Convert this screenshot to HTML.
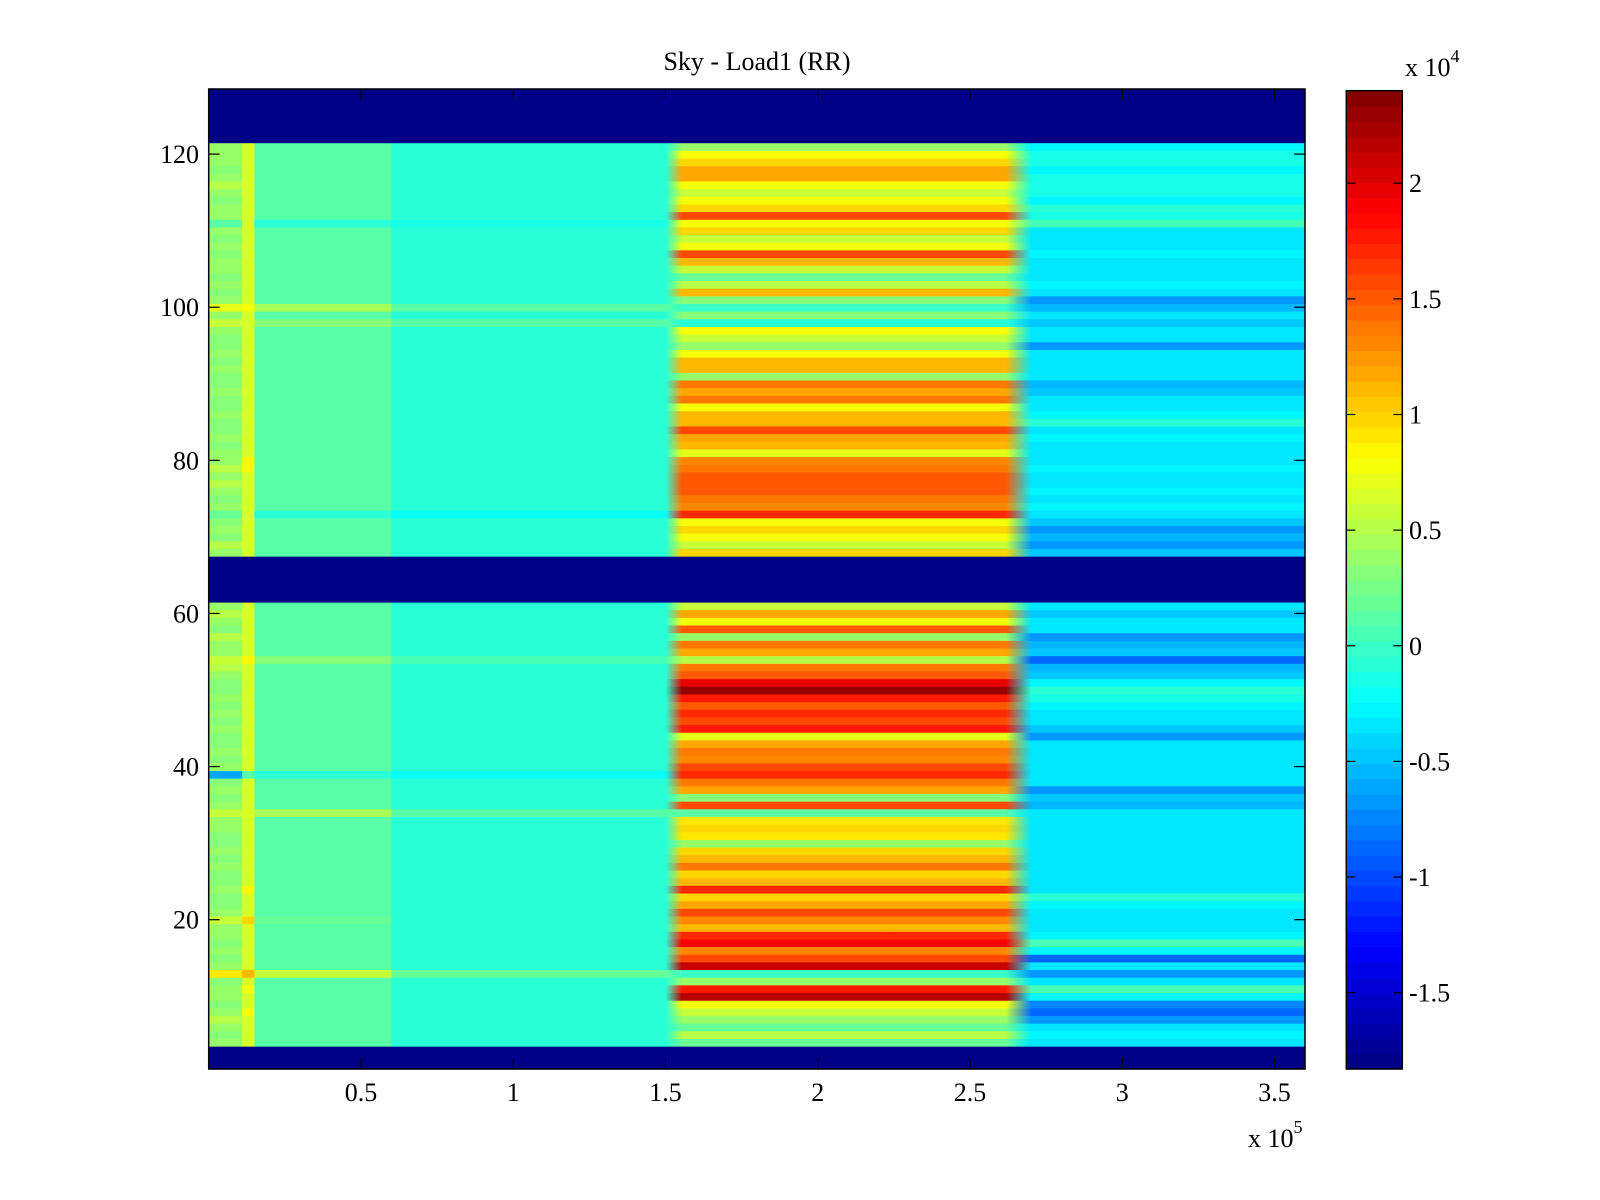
<!DOCTYPE html>
<html>
<head>
<meta charset="utf-8">
<style>
  html,body{margin:0;padding:0;background:#fff;}
  svg{display:block;}
  text{font-family:"Liberation Serif","DejaVu Serif",serif;fill:#000;}
</style>
</head>
<body>
<svg id="chart" width="1600" height="1200" viewBox="0 0 1600 1200" xmlns="http://www.w3.org/2000/svg">
  <rect x="0" y="0" width="1600" height="1200" fill="#fff"/>
  <text x="757" y="70" font-size="26" text-anchor="middle">Sky - Load1 (RR)</text>
  <g id="cells"></g>
  <defs id="defs"></defs>
  <g id="axes"></g>
  <g id="cbar"></g>
  <text x="1248" y="1147" font-size="26">x 10<tspan dy="-14" font-size="18">5</tspan></text>
  <text x="1405" y="76" font-size="26">x 10<tspan dy="-14" font-size="18">4</tspan></text>
</svg>
<script>
// ---- data (values in units of 1e4; rows 1..128) ----
const B = -1.83;
const xSegments = [0, 0.11, 0.15, 0.6, 1.50, 2.70, 3.6]; // segment edges in 1e5 units
const xTicks = [0.5, 1, 1.5, 2, 2.5, 3, 3.5];
const xTickLabels = ["0.5", "1", "1.5", "2", "2.5", "3", "3.5"];
const yTicks = [20, 40, 60, 80, 100, 120];
const yTickLabels = ["20", "40", "60", "80", "100", "120"];
const cTicks = [-1.5, -1, -0.5, 0, 0.5, 1, 1.5, 2];
const cTickLabels = ["-1.5", "-1", "-0.5", "0", "0.5", "1", "1.5", "2"];
const cLimits = [-1.83, 2.40];
const xLimits = [0, 3.6];
const yLimits = [0.5, 128.5];

const leftVals = [
  B,B,B,0.4,0.3,0.4,0.5,0.4,0.3,0.4,
  0.4,0.3,0.9,0.4,0.3,0.4,0.3,0.4,0.4,0.6,
  0.4,0.3,0.3,0.4,0.3,0.3,0.4,0.3,0.4,0.3,
  0.3,0.4,0.4,0.6,0.4,0.3,0.4,0.3,-0.6,0.4,
  0.3,0.4,0.3,0.3,0.4,0.3,0.4,0.3,0.4,0.3,
  0.3,0.4,0.5,0.6,0.4,0.4,0.5,0.3,0.4,0.5,
  0.4,B,B,B,B,B,B,0.4,0.5,0.3,
  0.4,0.3,0.2,0.4,0.3,0.4,0.5,0.4,0.5,0.4,
  0.4,0.3,0.4,0.3,0.3,0.4,0.3,0.3,0.4,0.3,
  0.3,0.4,0.3,0.4,0.3,0.3,0.4,0.6,0.4,0.7,
  0.4,0.3,0.4,0.3,0.4,0.4,0.3,0.4,0.3,0.4,
  0.1,0.4,0.4,0.3,0.4,0.5,0.4,0.3,0.4,0.4,
  0.4,B,B,B,B,B,B,B
];
const stripeVals = [
  B,B,B,0.65,0.65,0.65,0.65,0.75,0.65,0.65,
  0.75,0.65,1.1,0.65,0.65,0.65,0.65,0.65,0.65,0.95,
  0.65,0.65,0.65,0.85,0.65,0.65,0.65,0.65,0.65,0.65,
  0.65,0.65,0.65,0.65,0.65,0.65,0.65,0.65,0.1,0.65,
  0.65,0.65,0.65,0.65,0.65,0.65,0.65,0.65,0.65,0.65,
  0.65,0.65,0.65,0.85,0.65,0.65,0.65,0.65,0.65,0.65,
  0.65,B,B,B,B,B,B,0.65,0.65,0.65,
  0.65,0.65,0.65,0.65,0.65,0.65,0.65,0.65,0.8,0.85,
  0.65,0.65,0.65,0.65,0.65,0.65,0.65,0.65,0.65,0.65,
  0.65,0.65,0.65,0.65,0.65,0.65,0.65,0.65,0.65,0.8,
  0.65,0.65,0.65,0.65,0.65,0.65,0.65,0.65,0.65,0.65,
  0.65,0.65,0.65,0.65,0.65,0.65,0.65,0.65,0.65,0.65,
  0.65,B,B,B,B,B,B,B
];
const cyanNearVals = [
  B,B,B,0.15,0.15,0.15,0.15,0.15,0.15,0.15,
  0.15,0.15,0.55,0.15,0.15,0.15,0.15,0.15,0.15,0.2,
  0.15,0.15,0.15,0.15,0.15,0.15,0.15,0.15,0.15,0.15,
  0.15,0.15,0.15,0.45,0.15,0.15,0.15,0.15,-0.1,0.15,
  0.15,0.15,0.15,0.15,0.15,0.15,0.15,0.15,0.15,0.15,
  0.15,0.15,0.15,0.3,0.15,0.15,0.15,0.15,0.15,0.15,
  0.15,B,B,B,B,B,B,0.15,0.15,0.15,
  0.15,0.15,-0.1,0.15,0.15,0.15,0.15,0.15,0.15,0.15,
  0.15,0.15,0.15,0.15,0.15,0.15,0.15,0.15,0.15,0.15,
  0.15,0.15,0.15,0.15,0.15,0.15,0.15,0.35,0.15,0.45,
  0.15,0.15,0.15,0.15,0.15,0.15,0.15,0.15,0.15,0.15,
  -0.05,0.15,0.15,0.15,0.15,0.15,0.15,0.15,0.15,0.15,
  0.15,B,B,B,B,B,B,B
];
const cyanFarVals = [
  B,B,B,-0.05,-0.05,-0.05,-0.05,-0.05,-0.05,-0.05,
  -0.05,-0.05,0.2,-0.05,-0.05,-0.05,-0.05,-0.05,-0.05,-0.05,
  -0.05,-0.05,-0.05,-0.05,-0.05,-0.05,-0.05,-0.05,-0.05,-0.05,
  -0.05,-0.05,-0.05,0.15,-0.05,-0.05,-0.05,-0.05,-0.2,-0.05,
  -0.05,-0.05,-0.05,-0.05,-0.05,-0.05,-0.05,-0.05,-0.05,-0.05,
  -0.05,-0.05,-0.05,0.05,-0.05,-0.05,-0.05,-0.05,-0.05,-0.05,
  -0.05,B,B,B,B,B,B,-0.05,-0.05,-0.05,
  -0.05,-0.05,-0.2,-0.05,-0.05,-0.05,-0.05,-0.05,-0.05,-0.05,
  -0.05,-0.05,-0.05,-0.05,-0.05,-0.05,-0.05,-0.05,-0.05,-0.05,
  -0.05,-0.05,-0.05,-0.05,-0.05,-0.05,-0.05,0.1,-0.05,0.15,
  -0.05,-0.05,-0.05,-0.05,-0.05,-0.05,-0.05,-0.05,-0.05,-0.05,
  -0.15,-0.05,-0.05,-0.05,-0.05,-0.05,-0.05,-0.05,-0.05,-0.05,
  -0.05,B,B,B,B,B,B,B
];
const hotVals = [
  B,B,B,0.2,0.5,0.2,0.4,0.6,0.8,2.2,
  1.8,0.4,0.0,2.1,1.6,1.3,1.9,1.7,1.1,1.3,
  1.6,1.2,1.0,1.7,1.1,1.0,1.4,1.1,1.0,0.4,
  0.9,1.0,0.9,0.1,1.6,0.3,1.2,1.4,1.7,1.6,
  1.3,1.4,1.2,0.7,1.8,1.6,1.7,1.5,1.8,2.3,
  2.0,1.5,1.4,0.5,1.2,1.4,0.4,1.5,0.8,1.2,
  0.6,B,B,B,B,B,B,1.0,0.6,0.8,
  1.0,0.8,1.7,1.3,1.4,1.5,1.5,1.5,1.4,1.3,
  0.7,1.1,1.2,1.6,1.1,1.1,0.8,1.4,1.2,1.4,
  0.4,1.1,1.1,0.8,0.4,0.6,0.8,-0.1,0.3,0.0,
  0.3,1.1,0.5,0.2,0.6,1.1,1.6,0.8,0.6,1.0,
  0.8,1.6,1.0,0.8,0.6,0.8,1.2,1.2,1.0,0.8,
  0.4,B,B,B,B,B,B,B
];
const rightVals = [
  B,B,B,-0.35,-0.25,-0.35,-0.65,-0.85,-0.75,-0.25,
  0.05,-0.35,-0.65,-0.35,-0.85,-0.25,0.05,-0.25,-0.35,-0.35,
  -0.35,-0.25,-0.05,-0.35,-0.35,-0.35,-0.35,-0.35,-0.35,-0.35,
  -0.35,-0.35,-0.35,-0.35,-0.55,-0.45,-0.65,-0.35,-0.35,-0.35,
  -0.35,-0.35,-0.35,-0.65,-0.45,-0.35,-0.35,-0.25,-0.15,-0.05,
  -0.25,-0.45,-0.55,-0.85,-0.45,-0.55,-0.65,-0.35,-0.35,-0.45,
  -0.35,B,B,B,B,B,B,-0.45,-0.65,-0.55,
  -0.65,-0.45,-0.35,-0.25,-0.35,-0.25,-0.35,-0.35,-0.25,-0.35,
  -0.35,-0.35,-0.25,-0.35,-0.05,-0.25,-0.35,-0.35,-0.45,-0.55,
  -0.35,-0.35,-0.35,-0.35,-0.65,-0.35,-0.35,-0.45,-0.35,-0.55,
  -0.65,-0.35,-0.25,-0.35,-0.35,-0.35,-0.25,-0.35,-0.35,-0.35,
  0.05,-0.15,-0.05,-0.25,-0.15,-0.15,-0.15,-0.25,-0.15,-0.15,
  -0.25,B,B,B,B,B,B,B
];
const segmentSeries = [leftVals, stripeVals, cyanNearVals, cyanFarVals, hotVals, rightVals];
const segmentNames = ["left", "stripe", "cyan-near", "cyan-far", "hot", "right"];

// ---- scales ----
const PX0 = 208.7, PX1 = 1305, PY0 = 89, PY1 = 1069;
function xScale(v){ return PX0 + (v - xLimits[0]) / (xLimits[1] - xLimits[0]) * (PX1 - PX0); }
function yScale(v){ return PY0 + (yLimits[1] - v) / (yLimits[1] - yLimits[0]) * (PY1 - PY0); }
const CB0 = 90.7, CB1 = 1069, CBX = 1346.3, CBW = 56;
function cbScale(v){ return CB0 + (cLimits[1] - v) / (cLimits[1] - cLimits[0]) * (CB1 - CB0); }
function jet(t){
  const c = x => Math.max(0, Math.min(1, x));
  const r = c(1.5 - Math.abs(4*t - 3)), g = c(1.5 - Math.abs(4*t - 2)), b = c(1.5 - Math.abs(4*t - 1));
  return "rgb(" + Math.round(r*255) + "," + Math.round(g*255) + "," + Math.round(b*255) + ")";
}
function colorOf(v){
  let t = (v - cLimits[0]) / (cLimits[1] - cLimits[0]);
  t = Math.max(0, Math.min(1, t));
  let idx = Math.min(63, Math.floor(t * 64));
  return jet((idx + 0.5) / 64);
}

const NS = "http://www.w3.org/2000/svg";
function mk(tag, attrs, parent){
  const e = document.createElementNS(NS, tag);
  for (const k in attrs) e.setAttribute(k, attrs[k]);
  parent.appendChild(e);
  return e;
}

// ---- heatmap cells ----
const cells = document.getElementById("cells");
const defs = document.getElementById("defs");
const nRows = hotVals.length;
for (let i = 0; i < nRows; i++){
  const row = i + 1;
  const yTop = yScale(row + 0.5), yBot = yScale(row - 0.5);
  const h = yBot - yTop + 0.6;
  for (let s = 0; s < segmentSeries.length; s++){
    const x0 = xScale(xSegments[s]), x1 = xScale(xSegments[s+1]);
    const val = segmentSeries[s][i];
    let fill = colorOf(val);
    if (s === 4 && val > B){
      const gid = "g" + row;
      const lg = mk("linearGradient", {id: gid, x1: "0", x2: "1", y1: "0", y2: "0"}, defs);
      const cl = colorOf(cyanFarVals[i]), ch = colorOf(val), cr = colorOf(rightVals[i]);
      mk("stop", {offset: "0", "stop-color": cl}, lg);
      mk("stop", {offset: "0.045", "stop-color": ch}, lg);
      mk("stop", {offset: "0.93", "stop-color": ch}, lg);
      mk("stop", {offset: "1", "stop-color": cr}, lg);
      fill = "url(#" + gid + ")";
    }
    const r = mk("rect", {x: x0.toFixed(2), y: yTop.toFixed(2), width: (x1 - x0 + 0.6).toFixed(2), height: h.toFixed(2), fill: fill}, cells);
    
    
  }
}

// ---- axes ----
const axes = document.getElementById("axes");
const frame = mk("rect", {x: PX0, y: PY0, width: PX1 - PX0, height: PY1 - PY0, fill: "none", stroke: "#000", "stroke-width": 1.5}, axes);


for (let i = 0; i < xTicks.length; i++){
  const x = xScale(xTicks[i]);
  const t1 = mk("line", {x1: x, x2: x, y1: PY1, y2: PY1 - 11, stroke: "#000", "stroke-width": 1.2}, axes);
  
  
  const t2 = mk("line", {x1: x, x2: x, y1: PY0, y2: PY0 + 11, stroke: "#000", "stroke-width": 1.2}, axes);
  
  
  const lb = mk("text", {x: x, y: 1101, "font-size": 26, "text-anchor": "middle"}, axes);
  lb.textContent = xTickLabels[i];
  
  
}
for (let i = 0; i < yTicks.length; i++){
  const y = yScale(yTicks[i]);
  const t1 = mk("line", {x1: PX0, x2: PX0 + 11, y1: y, y2: y, stroke: "#000", "stroke-width": 1.2}, axes);
  
  
  const t2 = mk("line", {x1: PX1, x2: PX1 - 11, y1: y, y2: y, stroke: "#000", "stroke-width": 1.2}, axes);
  
  
  const lb = mk("text", {x: 199, y: y + 9, "font-size": 26, "text-anchor": "end"}, axes);
  lb.textContent = yTickLabels[i];
  
  
}

// ---- colorbar ----
const cbar = document.getElementById("cbar");
const levels = 64;
for (let k = 0; k < levels; k++){
  const v0 = cLimits[0] + k * (cLimits[1] - cLimits[0]) / levels;
  const v1 = cLimits[0] + (k + 1) * (cLimits[1] - cLimits[0]) / levels;
  const yA = cbScale(v1), yB = cbScale(v0);
  const r = mk("rect", {x: CBX, y: yA.toFixed(2), width: CBW, height: (yB - yA + 0.6).toFixed(2), fill: jet((k + 0.5) / levels)}, cbar);
  
  
}
const cbf = mk("rect", {x: CBX, y: CB0, width: CBW, height: CB1 - CB0, fill: "none", stroke: "#000", "stroke-width": 1.5}, cbar);


for (let i = 0; i < cTicks.length; i++){
  const y = cbScale(cTicks[i]);
  const t1 = mk("line", {x1: CBX, x2: CBX + 9, y1: y, y2: y, stroke: "#000", "stroke-width": 1.2}, cbar);
  
  
  const t2 = mk("line", {x1: CBX + CBW, x2: CBX + CBW - 9, y1: y, y2: y, stroke: "#000", "stroke-width": 1.2}, cbar);
  
  
  const lb = mk("text", {x: 1409, y: y + 9, "font-size": 26, "text-anchor": "start"}, cbar);
  lb.textContent = cTickLabels[i];
  
  
}
</script>
</body>
</html>
